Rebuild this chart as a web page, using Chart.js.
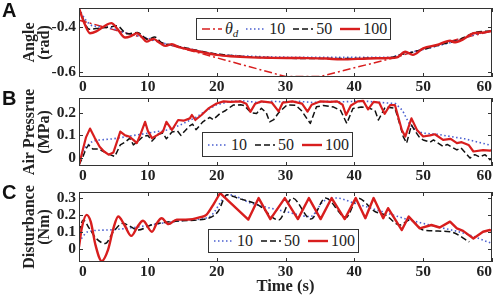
<!DOCTYPE html>
<html><head><meta charset="utf-8">
<script src="https://cdn.jsdelivr.net/npm/chart.js@4"></script>
<style>
body{margin:0;width:498px;height:298px;background:#fff;position:relative;overflow:hidden;font-family:"Liberation Serif","Times New Roman",serif;color:#222}
canvas{position:absolute;left:0}
.tag{position:absolute;left:2px;font:bold 20px/1 "Liberation Sans",Arial,sans-serif;color:#111}
.legend{position:absolute;border:1.5px solid #333;background:#fff;display:flex;align-items:center;font-size:16px;box-sizing:border-box;padding:0 3px 0 5px;white-space:nowrap;z-index:5}
.legend svg{margin-right:3px;flex:none}
.legend span{margin-right:8px}
.legend span:last-child{margin-right:0}
sub{font-size:11px;vertical-align:-3px}
</style>
</head><body>
<canvas id="cA" width="498" height="94" style="top:0"></canvas>
<canvas id="cB" width="498" height="100" style="top:84px"></canvas>
<canvas id="cC" width="498" height="120" style="top:178px"></canvas>
<div class="tag" style="top:0">A</div>
<div class="tag" style="top:88px">B</div>
<div class="tag" style="top:182px">C</div>
<div class="legend" id="lgA" style="left:196px;top:18px;height:22px"></div>
<div class="legend" id="lgB" style="left:202px;top:132px;height:25px"></div>
<div class="legend" id="lgC" style="left:208px;top:229px;height:24px"></div>
<script>
// time ticks shared by all panels
const xTicks = [0,10,20,30,40,50,60];

// A: angle (rad)
const aTd = [0,30,35,46,50,55,60];
const aVd = [-0.37,-0.62,-0.62,-0.535,-0.497,-0.455,-0.418];
const aT10 = [0,1,2,4,6,8,10,12,15,20,25,35,45,47,50,55,58,60];
const aV10 = [-0.32,-0.37,-0.395,-0.40,-0.42,-0.435,-0.45,-0.47,-0.49,-0.52,-0.53,-0.535,-0.535,-0.52,-0.5,-0.46,-0.43,-0.42];
const aT50 = [0,1.5,3,4.5,5.5,7,8.5,10,11,12,13.5,15,20,25,35,45,47,48,50,53,55,57.5,60];
const aV50 = [-0.32,-0.41,-0.405,-0.40,-0.395,-0.43,-0.425,-0.455,-0.445,-0.47,-0.48,-0.49,-0.52,-0.533,-0.54,-0.537,-0.52,-0.515,-0.5,-0.475,-0.46,-0.425,-0.418];
const aT100 = [0,0.8,1.6,2.5,3.5,4.7,5.6,6.7,7.6,8.4,9.2,9.8,10.8,11.8,12.6,13.5,14.5,16,18,20,22,25,28,32,36,38,42,45,46.2,47.4,48.5,50,52,53.9,54.5,55.8,57.3,58.5,60];
const aV100 = [-0.317,-0.385,-0.428,-0.42,-0.40,-0.383,-0.41,-0.447,-0.44,-0.428,-0.447,-0.465,-0.453,-0.472,-0.484,-0.476,-0.49,-0.50,-0.513,-0.524,-0.53,-0.535,-0.537,-0.538,-0.54,-0.544,-0.54,-0.538,-0.535,-0.51,-0.524,-0.495,-0.48,-0.461,-0.468,-0.455,-0.428,-0.425,-0.418];
const aTicks = [-0.6,-0.4];

// B: air pressure (MPa)
const bT10 = [0,0.5,1,2,3,5,7,9,11,13,15,17,18.5,20,22,24,26,28,30,32,34,36,38,40,42,44,46,47,48,49,50,52,54,56,58,60];
const bV10 = [-0.02,0.02,0.05,0.075,0.08,0.085,0.095,0.105,0.115,0.125,0.15,0.18,0.21,0.235,0.25,0.252,0.245,0.25,0.248,0.25,0.245,0.25,0.248,0.25,0.25,0.245,0.24,0.21,0.15,0.12,0.11,0.105,0.095,0.085,0.07,0.055];
const bT50 = [0,0.5,1,1.4,2,2.8,3.5,4.5,5.2,6,6.7,7.4,7.9,8.6,9.3,10,10.6,11.5,12.2,12.7,13.5,14.3,14.8,16,16.5,17,18,19,19.5,20.5,21.3,22.4,23.5,24,25,25.8,26.5,27.2,27.7,28.3,29,30.2,31.5,32.3,33.6,34.5,35.5,37,38,38.9,39.8,41,42,43,43.5,44.5,45.9,46.5,47.1,47.6,48.3,48.8,49.5,50,51,51.5,52.9,53.5,54.9,55.5,56.8,57.5,58.2,59,59.7,60];
const bV50 = [-0.03,0.0,0.04,0.058,0.04,0.04,0.03,0.015,0.007,0.058,0.07,0.088,0.058,0.075,0.095,0.1,0.075,0.105,0.11,0.085,0.115,0.12,0.1,0.14,0.15,0.125,0.16,0.18,0.17,0.197,0.21,0.234,0.235,0.232,0.2,0.197,0.22,0.2,0.16,0.17,0.2,0.234,0.233,0.21,0.153,0.226,0.232,0.225,0.21,0.153,0.219,0.225,0.222,0.21,0.168,0.226,0.22,0.16,0.095,0.066,0.146,0.12,0.09,0.08,0.07,0.08,0.051,0.06,0.036,0.045,0.0,0.015,0.005,0.015,-0.007,0.0];
const bT100 = [0,0.5,1,1.6,2.3,3,3.6,4.3,5,5.5,6,6.7,7.3,7.9,8.4,9,9.6,10,10.6,11.3,12.2,12.7,13.5,14.4,15.2,16.1,16.4,16.9,17.8,18.8,20,21,22,23.5,24.3,24.9,25.6,26.5,28,29,29.6,31,32.4,33.2,33.8,35,36.5,37.5,38.3,38.8,39.5,40.5,41.3,42,42.8,43.6,44.4,45.2,45.9,46.9,47.4,48.3,49.1,50,51,51.7,52.9,54,54.9,55.6,56.6,57.3,58.7,59.7,60];
const bV100 = [-0.03,0.03,0.09,0.13,0.088,0.05,0.03,0.015,0.025,0.07,0.117,0.10,0.095,0.08,0.066,0.11,0.16,0.12,0.088,0.10,0.117,0.16,0.124,0.168,0.165,0.175,0.19,0.168,0.19,0.219,0.241,0.25,0.248,0.25,0.24,0.204,0.24,0.25,0.245,0.206,0.245,0.25,0.24,0.205,0.235,0.25,0.248,0.25,0.235,0.19,0.232,0.25,0.252,0.215,0.248,0.245,0.195,0.234,0.234,0.124,0.095,0.175,0.124,0.095,0.1,0.105,0.08,0.085,0.066,0.07,0.058,0.029,0.035,0.033,0.035];
const bTicks = [0,0.1,0.2];

// C: disturbance (Nm)
const cT10 = [0,1.3,4,8,12,16,19,21.7,25,30,33.6,35.5,37.4,40,44,48,52,56,60];
const cV10 = [0.04,0.1,0.11,0.125,0.15,0.17,0.19,0.32,0.27,0.22,0.19,0.28,0.30,0.27,0.22,0.17,0.13,0.09,0.03];
const cT50 = [0,0.6,1.5,2.5,3.8,5,6.4,7.5,8.6,10.5,12.5,15,18.8,20.2,21.5,23,26,29,31,33.7,35.8,38.8,40.5,43,44.5,46.6,48.1,50,53.9,56.7];
const cV50 = [0.1,0.17,0.12,0.06,0.03,0.1,0.15,0.13,0.11,0.14,0.155,0.165,0.18,0.22,0.32,0.3,0.26,0.17,0.30,0.175,0.30,0.185,0.30,0.22,0.2,0.14,0.17,0.11,0.10,0.04];
const cT100a = [0,0.4,1.1,1.7,2.4,3.3,4.2,5,5.7,6.6,7.6,8.5,9.3,10.6,11.3,12,13,14.2,15.5,16.5,17.5,18.5,19.5,20.5];
const cV100a = [0.01,0.12,0.2,0.16,0.02,-0.075,-0.01,0.12,0.19,0.14,0.075,0.13,0.165,0.10,0.15,0.18,0.145,0.172,0.172,0.175,0.185,0.2,0.26,0.33];
const cT100b = [20.5,24.6,26.1,27.8,29.9,31.8,33.4,35.1,36.7,38.6,40.2,41.6,42.8,44.2,44.9,46.9,47.9,49.5,51.2,52.4,53.9,54.9,55.8,57.3,58.7,59.7,60];
const cV100b = [0.33,0.172,0.30,0.175,0.30,0.175,0.30,0.175,0.30,0.175,0.30,0.18,0.30,0.18,0.24,0.11,0.19,0.12,0.14,0.125,0.16,0.12,0.105,0.06,0.10,0.11,0.105];
const cTicks = [0,0.1,0.2,0.3];

const SERIF = '"Liberation Serif","Times New Roman",serif';
const RED = '#d81e1e', BLUE = '#4a5fd0', BLACK = '#111';
const pts = (t, v) => t.map((x, i) => ({x, y: v[i]}));

const sty = {
  s100: {borderColor: RED, borderWidth: 2.4},
  s50: {borderColor: BLACK, borderWidth: 1.5, borderDash: [6, 3]},
  s10: {borderColor: BLUE, borderWidth: 1.6, borderDash: [1.5, 2.5]},
  sd: {borderColor: RED, borderWidth: 1.5, borderDash: [8, 3, 2, 3]},
};
const ds = (t, v, s, smooth) => Object.assign({data: pts(t, v), cubicInterpolationMode: smooth ? 'monotone' : 'default', tension: 0}, s);

// box round the plot with inward ticks on all four sides
const frame = {
  id: 'frame',
  afterDatasetsDraw(chart){
    const {ctx, chartArea: a, scales: {x, y}} = chart;
    ctx.save();
    ctx.strokeStyle = '#333'; ctx.lineWidth = 1; ctx.setLineDash([]);
    ctx.strokeRect(a.left + 0.5, a.top + 0.5, a.right - a.left - 1, a.bottom - a.top - 1);
    ctx.beginPath();
    x.ticks.forEach(t => {
      const p = Math.round(x.getPixelForValue(t.value)) + 0.5;
      ctx.moveTo(p, a.bottom); ctx.lineTo(p, a.bottom - 4);
      ctx.moveTo(p, a.top); ctx.lineTo(p, a.top + 4);
    });
    y.ticks.forEach(t => {
      const p = Math.round(y.getPixelForValue(t.value)) + 0.5;
      ctx.moveTo(a.left, p); ctx.lineTo(a.left + 4, p);
      ctx.moveTo(a.right, p); ctx.lineTo(a.right - 4, p);
    });
    ctx.stroke();
    ctx.restore();
  }
};

function panel(id, c){
  const tickFont = {family: SERIF, weight: 'bold', size: 15.5};
  return new Chart(document.getElementById(id), {
    type: 'line',
    data: {datasets: c.datasets},
    options: {
      responsive: false, animation: false, devicePixelRatio: 1,
      layout: {padding: {top: c.top, right: 6, left: 0, bottom: 0}},
      elements: {point: {radius: 0}, line: {borderJoinStyle: 'round'}},
      plugins: {legend: {display: false}, tooltip: {enabled: false}},
      scales: {
        x: {
          type: 'linear', min: 0, max: 60,
          afterBuildTicks: s => { s.ticks = xTicks.map(v => ({value: v})); },
          afterFit: s => { s.height = c.xh; s.paddingLeft = 0; s.paddingRight = 0; },
          grid: {display: false, drawTicks: false}, border: {display: false},
          ticks: {align: 'inner', padding: 1, maxRotation: 0, autoSkip: false, color: '#222', font: tickFont, callback: v => String(v)},
          title: c.xTitle ? {display: true, text: c.xTitle, color: '#222', font: {family: SERIF, weight: 'bold', size: 16.5}, padding: {top: 0, bottom: 1}} : {display: false}
        },
        y: {
          type: 'linear', min: c.min, max: c.max,
          afterBuildTicks: s => { s.ticks = c.yTicks.map(v => ({value: v})); },
          afterFit: s => { s.width = 79; s.paddingTop = 0; s.paddingBottom = 0; },
          grid: {display: false, drawTicks: false}, border: {display: false},
          ticks: {padding: 3, autoSkip: false, color: '#222', font: tickFont, callback: v => v === 0 ? '0' : String(v)},
          title: {display: true, text: c.yTitle, color: '#222', font: {family: SERIF, weight: 'bold', size: 16, lineHeight: 0.9}, padding: {top: 23, bottom: 0}}
        }
      }
    },
    plugins: [frame]
  });
}

panel('cA', {top: 8, xh: 17, min: -0.622, max: -0.316, yTicks: aTicks, yTitle: ['Angle', '(rad)'],
  datasets: [ds(aT100, aV100, sty.s100, true), ds(aT50, aV50, sty.s50, true), ds(aT10, aV10, sty.s10, true), ds(aTd, aVd, sty.sd, false)]});
panel('cB', {top: 14, xh: 18, min: -0.035, max: 0.265, yTicks: bTicks, yTitle: ['Air Pressrue', '(MPa)'],
  datasets: [Object.assign(ds(bT100, bV100, sty.s100, false), {borderWidth: 2.2}), ds(bT50, bV50, sty.s50, false), ds(bT10, bV10, sty.s10, false)]});
panel('cC', {top: 14, xh: 36, min: -0.08, max: 0.336, yTicks: cTicks, yTitle: ['Disturbance', '(Nm)'], xTitle: 'Time (s)',
  datasets: [ds(cT100a, cV100a, sty.s100, true), ds(cT100b, cV100b, sty.s100, false), ds(cT50, cV50, sty.s50, true), ds(cT10, cV10, sty.s10, true)]});

// legends
function sample(s){
  const dash = s.borderDash ? ` stroke-dasharray="${s.borderDash.join(' ')}"` : '';
  return `<svg width="20" height="6"><line x1="0" y1="3" x2="20" y2="3" stroke="${s.borderColor}" stroke-width="${s.borderWidth}"${dash}/></svg>`;
}
function legend(id, items){
  document.getElementById(id).innerHTML = items.map(([s, label]) => sample(s) + `<span>${label}</span>`).join('');
}
legend('lgA', [[sty.sd, '<i>θ<sub>d</sub></i>'], [sty.s10, '10'], [sty.s50, '50'], [sty.s100, '100']]);
legend('lgB', [[sty.s10, '10'], [sty.s50, '50'], [sty.s100, '100']]);
legend('lgC', [[sty.s10, '10'], [sty.s50, '50'], [sty.s100, '100']]);
</script>
</body></html>
